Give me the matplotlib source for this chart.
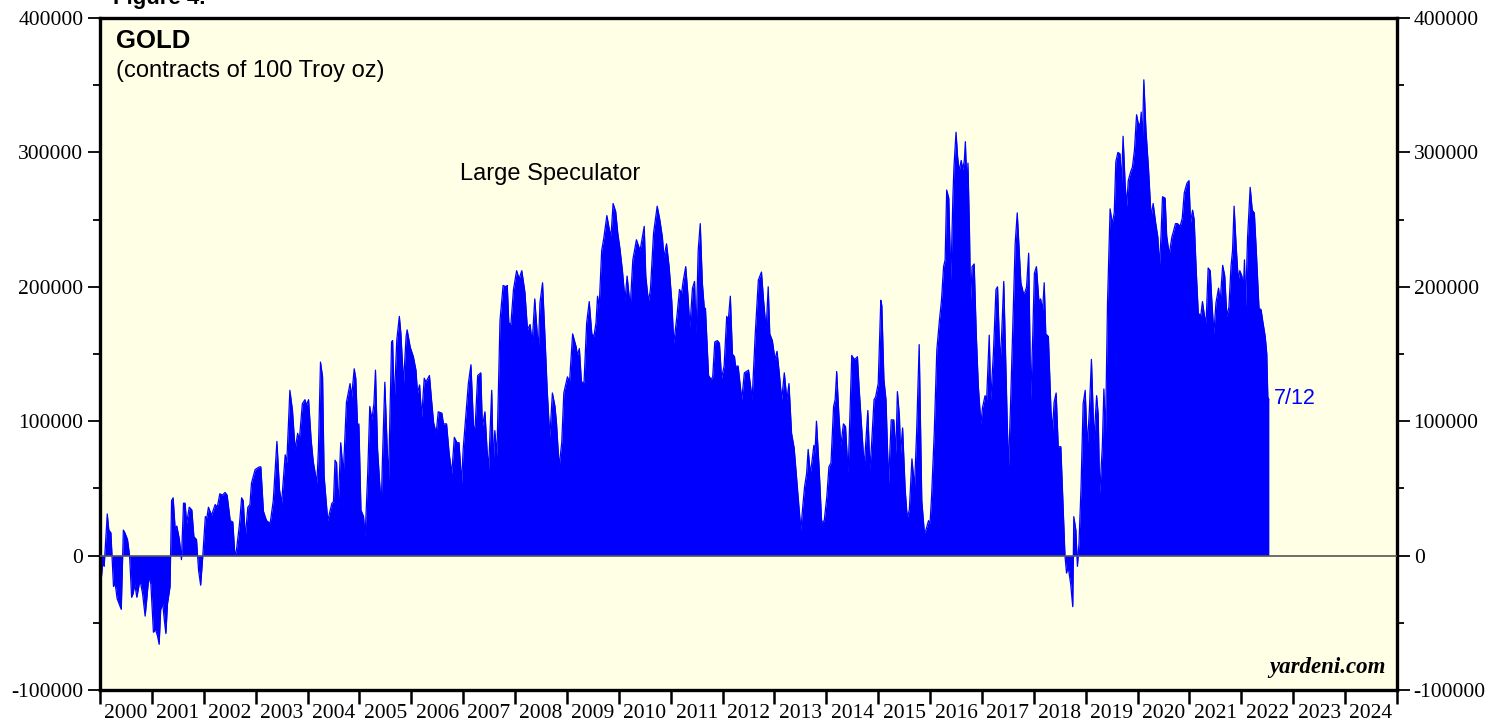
import numpy as np
import matplotlib
matplotlib.use('Agg')
import matplotlib.pyplot as plt
from matplotlib.ticker import MultipleLocator, FixedLocator, NullFormatter

plt.rcParams['font.family'] = ['Liberation Sans', 'DejaVu Sans']

# Large speculator net positions, gold futures (thousands of contracts)
dates = [
    2000.00, 2000.05, 2000.08, 2000.14, 2000.17, 2000.21, 2000.26, 2000.29, 2000.33, 2000.41,
    2000.45, 2000.48, 2000.53, 2000.57, 2000.61, 2000.64, 2000.67, 2000.71, 2000.77, 2000.82,
    2000.87, 2000.90, 2000.94, 2000.98, 2001.03, 2001.07, 2001.11, 2001.14, 2001.17, 2001.21,
    2001.24, 2001.27, 2001.30, 2001.35, 2001.38, 2001.41, 2001.45, 2001.48, 2001.53, 2001.57,
    2001.61, 2001.64, 2001.67, 2001.72, 2001.77, 2001.81, 2001.86, 2001.90, 2001.94, 2001.98,
    2002.03, 2002.06, 2002.09, 2002.15, 2002.22, 2002.26, 2002.31, 2002.36, 2002.41, 2002.45,
    2002.51, 2002.56, 2002.60, 2002.63, 2002.69, 2002.73, 2002.76, 2002.80, 2002.85, 2002.89,
    2002.92, 2002.99, 2003.07, 2003.10, 2003.15, 2003.21, 2003.28, 2003.34, 2003.41, 2003.46,
    2003.50, 2003.57, 2003.60, 2003.66, 2003.71, 2003.76, 2003.81, 2003.84, 2003.90, 2003.95,
    2003.98, 2004.02, 2004.07, 2004.11, 2004.18, 2004.21, 2004.25, 2004.29, 2004.32, 2004.39,
    2004.42, 2004.47, 2004.50, 2004.53, 2004.56, 2004.59, 2004.64, 2004.69, 2004.75, 2004.82,
    2004.85, 2004.90, 2004.93, 2004.97, 2004.99, 2005.03, 2005.08, 2005.11, 2005.16, 2005.20,
    2005.24, 2005.28, 2005.31, 2005.35, 2005.42, 2005.45, 2005.49, 2005.56, 2005.62, 2005.64,
    2005.67, 2005.72, 2005.77, 2005.80, 2005.85, 2005.90, 2005.92, 2005.98, 2006.04, 2006.09,
    2006.12, 2006.16, 2006.20, 2006.25, 2006.28, 2006.35, 2006.39, 2006.43, 2006.48, 2006.52,
    2006.59, 2006.62, 2006.68, 2006.73, 2006.78, 2006.83, 2006.88, 2006.92, 2006.97, 2007.00,
    2007.05, 2007.10, 2007.15, 2007.20, 2007.23, 2007.28, 2007.34, 2007.37, 2007.42, 2007.46,
    2007.49, 2007.55, 2007.58, 2007.61, 2007.65, 2007.71, 2007.77, 2007.83, 2007.85, 2007.88,
    2007.92, 2007.97, 2008.03, 2008.08, 2008.13, 2008.19, 2008.24, 2008.29, 2008.33, 2008.38,
    2008.45, 2008.48, 2008.53, 2008.58, 2008.62, 2008.67, 2008.72, 2008.77, 2008.80, 2008.85,
    2008.90, 2008.94, 2009.01, 2009.05, 2009.11, 2009.18, 2009.20, 2009.24, 2009.28, 2009.33,
    2009.38, 2009.43, 2009.48, 2009.52, 2009.56, 2009.59, 2009.62, 2009.67, 2009.71, 2009.77,
    2009.82, 2009.85, 2009.89, 2009.94, 2009.98, 2010.02, 2010.07, 2010.12, 2010.16, 2010.22,
    2010.27, 2010.34, 2010.41, 2010.49, 2010.52, 2010.57, 2010.61, 2010.67, 2010.74, 2010.79,
    2010.84, 2010.87, 2010.92, 2010.97, 2011.02, 2011.06, 2011.12, 2011.17, 2011.21, 2011.24,
    2011.29, 2011.33, 2011.37, 2011.42, 2011.46, 2011.49, 2011.53, 2011.57, 2011.61, 2011.65,
    2011.67, 2011.73, 2011.78, 2011.81, 2011.85, 2011.90, 2011.94, 2011.98, 2012.03, 2012.08,
    2012.11, 2012.15, 2012.19, 2012.23, 2012.25, 2012.30, 2012.37, 2012.42, 2012.46, 2012.50,
    2012.54, 2012.57, 2012.63, 2012.69, 2012.75, 2012.79, 2012.84, 2012.88, 2012.91, 2012.96,
    2013.01, 2013.05, 2013.09, 2013.14, 2013.19, 2013.24, 2013.28, 2013.33, 2013.38, 2013.42,
    2013.46, 2013.51, 2013.54, 2013.58, 2013.62, 2013.65, 2013.69, 2013.72, 2013.76, 2013.78,
    2013.81, 2013.86, 2013.91, 2013.96, 2014.01, 2014.05, 2014.09, 2014.14, 2014.17, 2014.20,
    2014.24, 2014.28, 2014.33, 2014.37, 2014.42, 2014.49, 2014.52, 2014.55, 2014.60, 2014.63,
    2014.68, 2014.73, 2014.80, 2014.84, 2014.87, 2014.92, 2014.95, 2015.00, 2015.05, 2015.07,
    2015.11, 2015.15, 2015.20, 2015.25, 2015.30, 2015.34, 2015.37, 2015.41, 2015.43, 2015.47,
    2015.52, 2015.56, 2015.60, 2015.65, 2015.70, 2015.74, 2015.79, 2015.84, 2015.89, 2015.92,
    2015.97, 2016.00, 2016.03, 2016.08, 2016.13, 2016.18, 2016.22, 2016.26, 2016.29, 2016.32,
    2016.36, 2016.40, 2016.44, 2016.46, 2016.50, 2016.53, 2016.56, 2016.60, 2016.63, 2016.66,
    2016.68, 2016.71, 2016.73, 2016.76, 2016.78, 2016.81, 2016.85, 2016.89, 2016.93, 2016.98,
    2017.01, 2017.06, 2017.09, 2017.14, 2017.17, 2017.22, 2017.27, 2017.30, 2017.35, 2017.38,
    2017.42, 2017.46, 2017.51, 2017.55, 2017.61, 2017.64, 2017.68, 2017.72, 2017.75, 2017.80,
    2017.83, 2017.86, 2017.90, 2017.94, 2017.98, 2018.01, 2018.05, 2018.10, 2018.13, 2018.17,
    2018.20, 2018.23, 2018.28, 2018.33, 2018.36, 2018.39, 2018.43, 2018.47, 2018.52, 2018.56,
    2018.60, 2018.63, 2018.66, 2018.71, 2018.75, 2018.77, 2018.81, 2018.84, 2018.87, 2018.91,
    2018.95, 2018.99, 2019.03, 2019.07, 2019.11, 2019.16, 2019.21, 2019.24, 2019.27, 2019.32,
    2019.35, 2019.38, 2019.42, 2019.47, 2019.51, 2019.55, 2019.58, 2019.62, 2019.66, 2019.69,
    2019.72, 2019.76, 2019.79, 2019.82, 2019.87, 2019.90, 2019.94, 2019.98, 2020.01, 2020.05,
    2020.07, 2020.09, 2020.12, 2020.16, 2020.21, 2020.26, 2020.30, 2020.35, 2020.39, 2020.42,
    2020.45, 2020.48, 2020.53, 2020.56, 2020.61, 2020.66, 2020.69, 2020.73, 2020.77, 2020.82,
    2020.86, 2020.90, 2020.95, 2020.99, 2021.02, 2021.06, 2021.09, 2021.13, 2021.17, 2021.22,
    2021.25, 2021.29, 2021.32, 2021.36, 2021.40, 2021.43, 2021.47, 2021.51, 2021.56, 2021.59,
    2021.64, 2021.68, 2021.72, 2021.76, 2021.80, 2021.83, 2021.86, 2021.90, 2021.94, 2021.97,
    2022.01, 2022.04, 2022.06, 2022.08, 2022.12, 2022.17, 2022.21, 2022.25, 2022.29, 2022.34,
    2022.38, 2022.41, 2022.46, 2022.49, 2022.51, 2022.53,
]
net_long = [
    -28, -6, -8, 31, 19, 17, -23, -20, -32, -40,
    19, 17, 12, 0, -31, -28, -21, -31, -18, -28,
    -45, -33, -16, -21, -57, -55, -60, -66, -40, -36,
    -48, -58, -36, -23, 41, 43, 19, 22, 12, -3,
    39, 39, 24, 36, 34, 14, 12, -11, -22, -1,
    29, 28, 36, 30, 38, 36, 46, 45, 47, 45,
    26, 25, 0, 4, 24, 43, 41, 14, 36, 38,
    54, 64, 66, 66, 33, 26, 24, 41, 85, 49,
    39, 75, 69, 123, 108, 79, 91, 85, 113, 116,
    112, 116, 86, 70, 54, 79, 144, 133, 59, 26,
    31, 39, 40, 71, 69, 36, 84, 61, 114, 128,
    118, 139, 132, 91, 98, 34, 29, 14, 61, 111,
    101, 113, 138, 79, 36, 79, 129, 54, 159, 160,
    113, 160, 178, 165, 128, 163, 168, 155, 148, 138,
    121, 127, 103, 132, 129, 134, 116, 99, 91, 107,
    106, 98, 98, 76, 61, 88, 84, 84, 54, 79,
    103, 128, 142, 96, 95, 134, 136, 96, 107, 79,
    64, 123, 69, 93, 74, 175, 201, 200, 201, 173,
    172, 198, 212, 206, 212, 196, 168, 172, 158, 191,
    153, 188, 203, 160, 123, 88, 121, 111, 98, 66,
    84, 121, 133, 129, 165, 155, 149, 154, 129, 129,
    173, 189, 165, 163, 173, 193, 184, 227, 236, 253,
    242, 238, 262, 256, 240, 229, 212, 190, 208, 185,
    220, 235, 227, 245, 208, 189, 198, 240, 260, 250,
    237, 222, 232, 215, 190, 158, 178, 198, 195, 204,
    215, 195, 170, 199, 204, 165, 227, 247, 203, 183,
    184, 134, 131, 133, 159, 160, 158, 132, 141, 178,
    175, 193, 150, 148, 141, 141, 116, 136, 137, 138,
    126, 116, 165, 205, 211, 190, 168, 200, 165, 160,
    146, 152, 137, 116, 136, 116, 128, 91, 80, 61,
    41, 19, 34, 51, 61, 79, 61, 69, 82, 76,
    100, 66, 25, 26, 44, 66, 69, 111, 116, 137,
    106, 82, 98, 96, 61, 149, 147, 146, 148, 126,
    96, 66, 108, 64, 81, 116, 118, 128, 190, 186,
    131, 116, 54, 101, 101, 76, 122, 103, 76, 95,
    49, 28, 34, 72, 51, 91, 157, 41, 17, 19,
    26, 24, 45, 91, 153, 175, 190, 215, 220, 272,
    266, 205, 267, 289, 315, 297, 286, 294, 287, 294,
    308, 274, 292, 240, 190, 215, 217, 165, 126, 98,
    110, 119, 116, 164, 116, 150, 198, 200, 143, 165,
    204, 141, 64, 111, 190, 232, 255, 225, 203, 195,
    196, 200, 225, 116, 165, 210, 215, 188, 191, 183,
    203, 165, 163, 108, 93, 114, 121, 81, 81, 41,
    0, -13, -8, -21, -38, 29, 19, -8, 9, 51,
    113, 123, 81, 108, 146, 86, 119, 105, 46, 81,
    124, 88, 188, 258, 247, 255, 293, 300, 299, 277,
    312, 276, 260, 279, 286, 289, 302, 328, 322, 320,
    330, 304, 354, 317, 288, 252, 262, 247, 237, 215,
    237, 267, 266, 238, 224, 237, 241, 247, 247, 245,
    251, 270, 277, 279, 248, 257, 250, 212, 180, 179,
    189, 178, 173, 214, 212, 190, 165, 188, 199, 188,
    216, 208, 178, 185, 215, 227, 260, 230, 205, 212,
    208, 200, 220, 185, 237, 274, 257, 255, 225, 184,
    183, 175, 163, 150, 118, 116,
]
year_labels = [str(y) for y in range(2000, 2025)]

x = np.array(dates)
y = np.array(net_long) * 1000.0

fig = plt.figure(figsize=(15.05, 7.21), dpi=100)
ax = fig.add_axes([100 / 1505, 31 / 721, 1297 / 1505, 672 / 721])
ax.set_facecolor('#FFFFE6')

ax.fill_between(x, y, 0, color='#0000FF', lw=0, zorder=2)
ax.plot(x, y, color='#0000FF', lw=0.9, zorder=2)
ax.axhline(0, color='#555555', lw=1.2, zorder=3)

ax.set_xlim(2000, 2025)
ax.set_ylim(-100000, 400000)

# y axis: labels on both sides
ax.yaxis.set_major_locator(MultipleLocator(100000))
ax.yaxis.set_minor_locator(MultipleLocator(50000))
ax.yaxis.set_major_formatter(plt.FuncFormatter(lambda v, p: f'{int(v)}'))
ax.tick_params(axis='y', which='both', direction='out', left=True, right=True,
               labelleft=True, labelright=True, width=1.3, colors='black')
ax.tick_params(axis='y', which='major', length=9, pad=3, labelsize=15.5,
               labelfontfamily='Liberation Serif')
ax.tick_params(axis='y', which='minor', length=5)

# x axis: ticks at year boundaries, labels centered in each year
ax.xaxis.set_major_locator(FixedLocator(range(2000, 2026)))
ax.xaxis.set_major_formatter(NullFormatter())
ax.xaxis.set_minor_locator(FixedLocator([int(s) + 0.5 for s in year_labels]))
ax.set_xticklabels(year_labels, minor=True)
ax.tick_params(axis='x', which='major', direction='out', length=10, width=1.8)
ax.tick_params(axis='x', which='minor', length=0, pad=10, labelsize=15.5,
               labelfontfamily='Liberation Serif')

for side in ['left', 'bottom', 'top', 'right']:
    ax.spines[side].set_linewidth(2.4)

ax.text(0.012, 0.984, 'GOLD', transform=ax.transAxes, fontsize=18.5, fontweight='bold',
        va='top', ha='left')
ax.text(0.012, 0.937, '(contracts of 100 Troy oz)', transform=ax.transAxes, fontsize=17,
        va='top', ha='left')
ax.text(2006.94, 284000, 'Large Speculator', fontsize=17, va='center', ha='left')
ax.text(2022.63, 117000, '7/12', fontsize=15.5, color='#0000FF', va='center', ha='left')
ax.text(0.991, 0.018, 'yardeni.com', transform=ax.transAxes, fontsize=16.5,
        fontweight='bold', fontstyle='italic', family='Liberation Serif',
        ha='right', va='bottom')

fig.text(113 / 1505, 1 - 4 / 721, 'Figure 4.', fontsize=16, fontweight='bold',
         ha='left', va='baseline')

fig.savefig('out.png', dpi=100, facecolor='white')
